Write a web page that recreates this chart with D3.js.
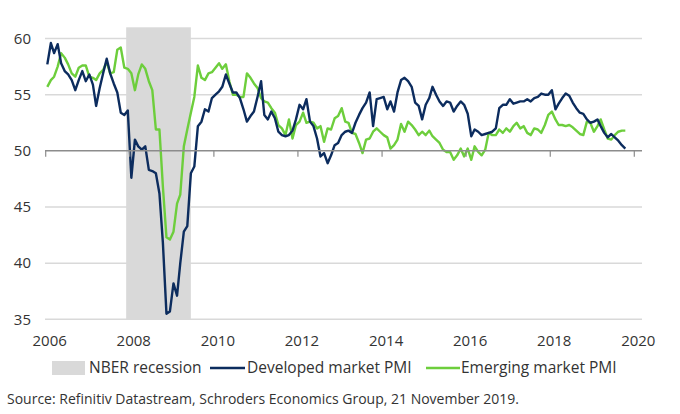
<!DOCTYPE html>
<html><head><meta charset="utf-8">
<script src="https://cdn.jsdelivr.net/npm/d3@7"></script>
<style>body{margin:0;background:#fff}svg{display:block}text{font-family:"Open Sans",sans-serif}</style>
</head><body><svg id="c" width="680" height="414"></svg>
<script>
const startYear = 2006, startMonth = 0;
const developed = [57.7,59.6,58.7,59.5,57.8,57.1,56.8,56.3,55.4,56.3,57.1,56.2,
56.8,55.9,54.0,55.6,56.9,58.2,56.9,56.0,55.2,53.4,53.2,53.6,
47.6,51.0,50.4,50.1,50.4,48.3,48.2,48.0,46.2,41.8,35.5,35.7,
38.2,37.1,40.0,42.8,43.3,48.0,48.6,52.2,52.6,53.7,53.5,54.7,
55.0,55.3,55.7,56.8,56.0,55.2,55.2,54.7,53.7,52.6,53.1,53.5,
54.8,56.2,53.2,52.8,53.5,52.9,51.7,51.4,51.3,51.4,51.8,52.8,
54.1,53.7,54.6,52.6,52.2,51.1,49.5,49.8,48.9,49.6,50.5,50.7,
51.4,51.7,51.8,51.6,52.5,53.2,53.8,54.3,55.2,52.2,54.6,54.7,
54.8,53.7,54.4,53.5,55.2,56.3,56.5,56.2,55.7,54.3,54.0,52.8,
54.1,54.7,55.7,55.0,54.4,54.0,54.4,54.3,53.5,54.0,54.4,54.1,
53.3,51.3,51.9,51.7,51.4,51.5,51.6,51.7,52.0,53.8,54.1,54.1,
54.6,54.2,54.3,54.4,54.4,54.6,54.4,54.7,54.8,55.1,55.0,55.0,
55.4,53.7,54.2,54.7,55.1,54.9,54.3,53.8,53.4,53.3,52.8,52.5,
52.6,52.8,52.2,51.6,51.2,51.5,51.2,50.9,50.5,50.2];
const emerging = [55.7,56.3,56.6,57.5,58.7,58.3,57.7,56.9,56.6,57.4,57.6,57.6,
56.6,56.5,56.3,56.9,57.2,57.9,56.9,57.0,59.0,59.2,57.4,57.3,
56.9,55.4,56.8,57.7,57.3,56.2,55.4,51.9,51.9,46.8,42.3,42.1,
42.8,45.3,46.1,50.4,51.9,53.4,54.8,57.6,56.5,56.3,56.9,57.0,
57.4,57.8,57.3,57.7,56.2,55.0,55.0,54.8,54.8,56.9,56.5,56.0,
55.6,54.7,54.4,54.3,53.8,53.4,52.3,52.0,51.4,52.8,51.1,52.3,
52.6,53.4,52.5,52.6,52.5,52.0,52.2,50.8,52.0,51.9,52.9,53.1,
53.8,52.6,52.5,51.6,51.5,50.7,49.8,51.0,51.1,51.7,52.0,51.7,
51.4,51.2,50.2,50.5,51.0,52.4,51.7,52.6,52.3,51.9,51.4,51.7,
51.4,51.8,51.3,51.0,50.7,50.1,49.9,49.9,49.2,49.6,50.2,49.5,
50.2,49.2,50.4,49.9,49.6,50.1,51.6,51.4,51.4,51.9,51.6,52.0,
51.7,52.2,52.5,52.0,52.2,51.6,51.4,52.0,51.9,51.6,52.3,53.2,
53.5,52.8,52.3,52.3,52.2,52.3,52.1,51.8,51.5,51.4,52.6,52.5,
51.7,52.2,52.8,51.9,51.1,51.0,51.4,51.7,51.8,51.8];
const yTicks = [35,40,45,50,55,60];
const xTickYears = [2006,2008,2010,2012,2014,2016,2018,2020];
const recession = ["2007-12-01","2009-06-15"];
const legendLabels = ["NBER recession","Developed market PMI","Emerging market PMI"];
const sourceText = "Source: Refinitiv Datastream, Schroders Economics Group, 21 November 2019.";

const colDev = "#0c2c5e", colEm = "#6dce3c", colShade = "#d9d9d9", colGrid = "#d9d9d9", colText = "#333";
const svg = d3.select("#c");
const x = d3.scaleTime().domain([new Date(2006,0,1), new Date(2020,0,1)]).range([45.7, 634.3]);
const y = d3.scaleLinear().domain([35, 61]).range([319.3, 27.3]);
const dates = developed.map((d,i)=>new Date(startYear, startMonth+i, 15));

// recession shade
svg.append("rect").attr("x", x(new Date(recession[0]))).attr("y", y(61))
  .attr("width", x(new Date(recession[1])) - x(new Date(recession[0])))
  .attr("height", y(35) - y(61)).attr("fill", colShade);

// gridlines
yTicks.filter(v=>v!==50).forEach(v=>{
  svg.append("line").attr("x1",45).attr("x2",642).attr("y1",y(v)).attr("y2",y(v))
    .attr("stroke",colGrid).attr("stroke-width",1.5);
});
// y labels
yTicks.forEach(v=>{
  svg.append("text").attr("x",31).attr("y",y(v)).attr("dy","0.35em").attr("text-anchor","end")
    .attr("font-size",15).attr("fill",colText).text(v);
});

// lines
const line = d3.line().x((d,i)=>x(dates[i])).y(d=>y(d));
svg.append("path").datum(emerging).attr("d",line).attr("fill","none").attr("stroke",colEm).attr("stroke-width",2.4).attr("stroke-linejoin","round");
svg.append("path").datum(developed).attr("d",line).attr("fill","none").attr("stroke",colDev).attr("stroke-width",2.4).attr("stroke-linejoin","round");

// axis at 50
svg.append("line").attr("x1",45).attr("x2",642).attr("y1",y(50)).attr("y2",y(50)).attr("stroke","#8c8c8c").attr("stroke-width",1.5);
xTickYears.forEach(yr=>{
  const xx = x(new Date(yr,0,1));
  svg.append("line").attr("x1",xx).attr("x2",xx).attr("y1",y(50)).attr("y2",y(50)+6).attr("stroke","#8c8c8c").attr("stroke-width",1.2);
  svg.append("text").attr("x",xx+4).attr("y",341).attr("dy","0.35em").attr("text-anchor","middle")
    .attr("font-size",15).attr("fill",colText).text(yr);
});

// legend
const ly = 368;
svg.append("rect").attr("x",52).attr("y",ly-7).attr("width",33).attr("height",14).attr("fill",colShade);
svg.append("text").attr("x",89).attr("y",ly).attr("dy","0.35em").attr("font-size",15.5).attr("fill",colText).text(legendLabels[0]);
svg.append("line").attr("x1",210).attr("x2",245).attr("y1",ly).attr("y2",ly).attr("stroke",colDev).attr("stroke-width",2.5);
svg.append("text").attr("x",247).attr("y",ly).attr("dy","0.35em").attr("font-size",15.5).attr("fill",colText).text(legendLabels[1]);
svg.append("line").attr("x1",426).attr("x2",460).attr("y1",ly).attr("y2",ly).attr("stroke",colEm).attr("stroke-width",2.5);
svg.append("text").attr("x",461).attr("y",ly).attr("dy","0.35em").attr("font-size",15.5).attr("fill",colText).text(legendLabels[2]);

svg.append("text").attr("x",7).attr("y",399).attr("dy","0.35em").attr("font-size",14).attr("fill",colText).text(sourceText);
</script></body></html>
